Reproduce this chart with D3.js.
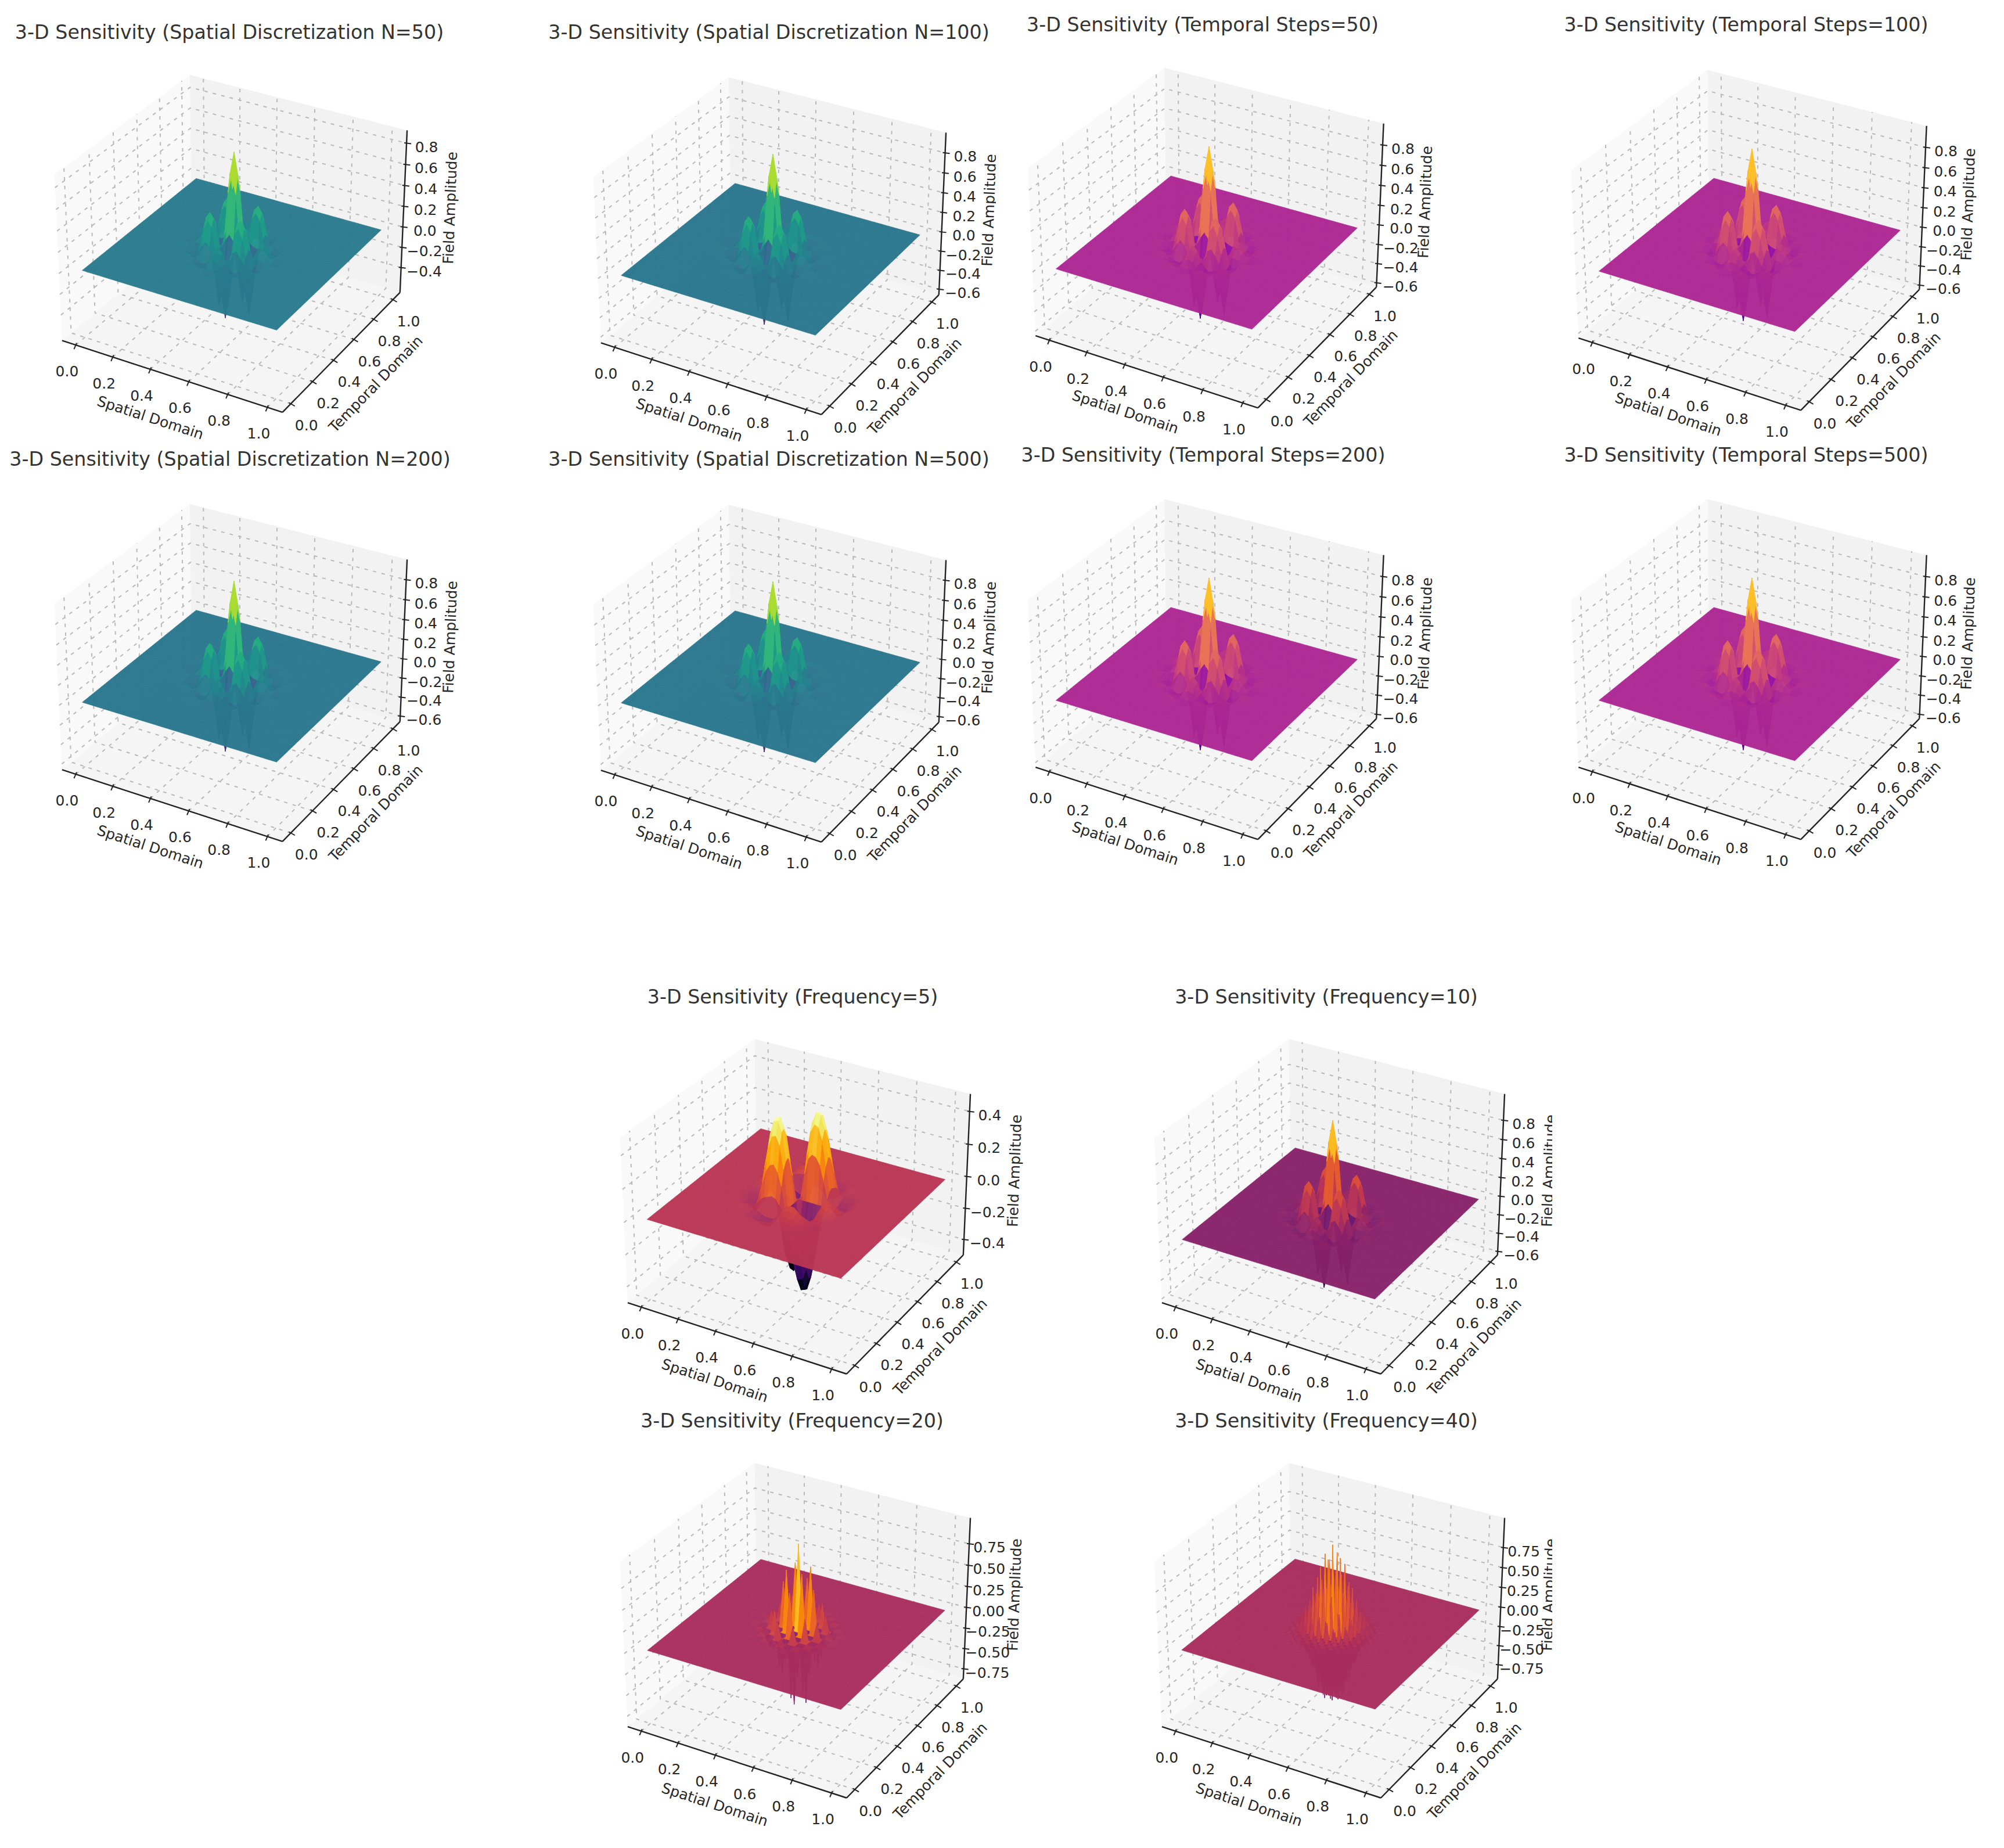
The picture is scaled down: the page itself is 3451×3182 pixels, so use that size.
<!DOCTYPE html>
<html>
<head>
<meta charset="utf-8">
<title>3-D Sensitivity</title>
<script src="https://cdn.jsdelivr.net/npm/d3@7/dist/d3.min.js"></script>
<style>
  body { margin: 0; background: #fff; }
  text { font-family: "DejaVu Sans", sans-serif; fill: #262626; }
</style>
</head>
<body>
<div id="chart"></div>
<script>
// panel titles, in drawing order
const panelTitles = [
  "3-D Sensitivity (Spatial Discretization N=50)",
  "3-D Sensitivity (Spatial Discretization N=100)",
  "3-D Sensitivity (Temporal Steps=50)",
  "3-D Sensitivity (Temporal Steps=100)",
  "3-D Sensitivity (Spatial Discretization N=200)",
  "3-D Sensitivity (Spatial Discretization N=500)",
  "3-D Sensitivity (Temporal Steps=200)",
  "3-D Sensitivity (Temporal Steps=500)",
  "3-D Sensitivity (Frequency=5)",
  "3-D Sensitivity (Frequency=10)",
  "3-D Sensitivity (Frequency=20)",
  "3-D Sensitivity (Frequency=40)"
];
const panelSurfaces = ["f10","f10","f10","f10","f10","f10","f10","f10","f5","f10","f20","f40"];
const panelColormaps = ["viridis","viridis","plasma","plasma","viridis","viridis","plasma","plasma","inferno","inferno","inferno","inferno"];
const panelPeaks = [0.92, 1, 1, 1, 1, 1, 1, 1, 1, 1.02, 1, 1.05];

const xyTicks = [0, 0.2, 0.4, 0.6, 0.8, 1];
const zTicksShort = [-0.4, -0.2, 0, 0.2, 0.4, 0.6, 0.8];
const zTicksLong = [-0.6, -0.4, -0.2, 0, 0.2, 0.4, 0.6, 0.8];
const zTicksFive = [-0.4, -0.2, 0, 0.2, 0.4];
const zTicksQuarter = [-0.75, -0.5, -0.25, 0, 0.25, 0.5, 0.75];
const panelZTicks = [zTicksShort, zTicksLong, zTicksLong, zTicksLong, zTicksLong, zTicksLong, zTicksLong, zTicksLong,
  zTicksFive, zTicksLong, zTicksQuarter, zTicksQuarter];
const panelZDomains = [[-0.65,0.92],[-0.66,1.0],[-0.646,1.01],[-0.646,1.01],[-0.66,1.0],[-0.66,1.0],[-0.646,1.01],[-0.646,1.01],
  [-0.5,0.505],[-0.64,1.07],[-0.875,1.05],[-0.937,1.115]];

// amplitude, one quadrant around the centre (0.5, 0.5), spacing 0.02
const surfaceF5 = [
  [0,0,0,0,0,0,0,0,0,0,0,0,0],
  [0,.15,.25,.28,.27,.23,.14,.04,-.02,-.04,-.03,-.02,-.01],
  [0,.25,.40,.45,.44,.37,.22,.07,-.04,-.07,-.05,-.03,-.01],
  [0,.28,.45,.51,.50,.42,.26,.08,-.04,-.08,-.06,-.04,-.02],
  [0,.27,.44,.50,.49,.41,.25,.07,-.04,-.08,-.06,-.03,-.01],
  [0,.23,.37,.42,.41,.34,.21,.06,-.03,-.06,-.05,-.03,-.01],
  [0,.14,.22,.26,.25,.21,.13,.04,-.02,-.04,-.03,-.02,-.01],
  [0,.04,.07,.08,.07,.06,.04,.01,-.01,-.01,-.01,-.01,0],
  [0,-.02,-.04,-.04,-.04,-.03,-.02,-.01,0,.01,0,0,0],
  [0,-.04,-.07,-.08,-.08,-.06,-.04,-.01,.01,.01,.01,.01,0],
  [0,-.03,-.05,-.06,-.06,-.05,-.03,-.01,0,.01,.01,0,0],
  [0,-.02,-.03,-.04,-.03,-.03,-.02,-.01,0,.01,0,0,0],
  [0,-.01,-.01,-.02,-.01,-.01,-.01,0,0,0,0,0,0]
];
const surfaceF10 = [
  [1,.78,.2,-.42,-.64,-.34,.02,.16,.14,.06,-.01,-.03,-.02],
  [.78,.6,.14,-.26,-.42,-.2,.03,.12,.1,.05,-.01,-.02,-.02],
  [.2,.14,.06,.06,.04,.03,.02,.02,.02,.01,0,0,0],
  [-.42,-.26,.06,.30,.37,.30,.12,-.03,-.06,-.03,.01,.02,.01],
  [-.64,-.42,.04,.37,.42,.36,.15,-.05,-.08,-.04,.01,.02,.01],
  [-.34,-.2,.03,.30,.36,.27,.10,-.04,-.06,-.02,0,.01,.01],
  [.02,.03,.02,.12,.15,.10,.03,-.02,-.02,-.01,0,0,0],
  [.16,.12,.02,-.03,-.05,-.04,-.02,.01,.02,.01,0,-.01,0],
  [.14,.1,.02,-.06,-.08,-.06,-.02,.02,.03,.01,0,0,0],
  [.06,.05,.01,-.03,-.04,-.02,-.01,.01,.01,0,0,0,0],
  [-.01,-.01,0,.01,.01,0,0,0,0,0,0,0,0],
  [-.03,-.02,0,.02,.02,.01,0,-.01,0,0,0,0,0],
  [-.02,-.02,0,.01,.01,.01,0,0,0,0,0,0,0]
];
// spike tips only, spacing 0.04 (the surface crosses zero halfway between them)
const surfaceF20 = [
  [1,-.85,.52,-.23,.07,-.02,0],
  [-.85,.72,-.44,.20,-.06,.02,0],
  [.52,-.44,.27,-.12,.04,-.01,0],
  [-.23,.20,-.12,.05,-.02,0,0],
  [.07,-.06,.04,-.02,.01,0,0],
  [-.02,.02,-.01,0,0,0,0],
  [0,0,0,0,0,0,0]
];
// spike tips only, spacing 0.02
const surfaceF40 = [
  [1,-.82,.87,-.73,.57,-.41,.28,-.18,.10,-.06,.03,-.01,.01],
  [-.82,.50,-.80,.38,-.55,.22,-.27,.09,-.10,.03,-.03,.01,-.01],
  [.87,-.80,.76,-.64,.50,-.36,.24,-.15,.09,-.05,.03,-.01,.01],
  [-.73,.38,-.64,.29,-.42,.16,-.20,.07,-.07,.02,-.02,.01,0],
  [.57,-.55,.50,-.42,.32,-.23,.16,-.10,.06,-.03,.02,-.01,0],
  [-.41,.22,-.36,.16,-.23,.09,-.11,.04,-.04,.01,-.01,.01,0],
  [.28,-.27,.24,-.20,.16,-.11,.08,-.05,.03,-.02,.01,0,0],
  [-.18,.09,-.15,.07,-.10,.04,-.05,.02,-.02,.01,-.01,0,0],
  [.10,-.10,.09,-.07,.06,-.04,.03,-.02,.01,-.01,0,0,0],
  [-.06,.03,-.05,.02,-.03,.01,-.02,.01,-.01,0,0,0,0],
  [.03,-.03,.03,-.02,.02,-.01,.01,-.01,0,0,0,0,0],
  [-.01,.01,-.01,.01,-.01,.01,0,0,0,0,0,0,0],
  [.01,-.01,.01,0,0,0,0,0,0,0,0,0,0]
];

// how each surface is meshed
const surfaces = {
  f5:  { table: surfaceF5,  cells: 50,  every: 1, mirrorSign: true,  gain: 0 },
  f10: { table: surfaceF10, cells: 50,  every: 1, mirrorSign: false, gain: 0 },
  f20: { table: surfaceF20, cells: 50,  every: 2, mirrorSign: false, gain: 0.75 },
  f40: { table: surfaceF40, cells: 100, every: 2, mirrorSign: false, gain: 0.55 }
};
const colormaps = { viridis: d3.interpolateViridis, plasma: d3.interpolatePlasma, inferno: d3.interpolateInferno };

// where each panel sits on the page (the figure is a montage, so they are not on a regular grid)
const panelLayout = [
  { cx: 403,  cy: 406,  s: 3806, tx: 395,  ty: 55 },
  { cx: 1331, cy: 410,  s: 3806, tx: 1324, ty: 55, clip: 1715 },
  { cx: 2082, cy: 396,  s: 3839, tx: 2071, ty: 42 },
  { cx: 3017, cy: 400,  s: 3839, tx: 3007, ty: 42 },
  { cx: 403,  cy: 1145, s: 3806, tx: 396,  ty: 790 },
  { cx: 1331, cy: 1146, s: 3806, tx: 1324, ty: 790, clip: 1715 },
  { cx: 2082, cy: 1139, s: 3839, tx: 2072, ty: 783 },
  { cx: 3017, cy: 1139, s: 3839, tx: 3007, ty: 783 },
  { cx: 1375, cy: 2064, s: 3780, tx: 1365, ty: 1716 },
  { cx: 2295, cy: 2064, s: 3780, tx: 2284, ty: 1716, clip: 2673 },
  { cx: 1375, cy: 2794, s: 3780, tx: 1364, ty: 2446 },
  { cx: 2295, cy: 2794, s: 3780, tx: 2284, ty: 2446, clip: 2673 }
];

// matplotlib default view: elev 30, azim -60, dist 10, box aspect 4:4:3
const boxX = 1.1429, boxZ = 0.8571;
const mid = [boxX / 2, boxX / 2, boxZ / 2];
const U = [0.866, 0.5, 0], V = [-0.25, 0.433, 0.866], W = [0.433, -0.75, 0.5];
const dot = (a, b) => a[0] * b[0] + a[1] * b[1] + a[2] * b[2];

const svg = d3.select("#chart").append("svg").attr("width", 3451).attr("height", 3182);
const defs = svg.append("defs");

function drawPanel(idx) {
  const p = panelLayout[idx];
  const surf = surfaces[panelSurfaces[idx]];
  const ticksZ = panelZTicks[idx];
  const zDom = panelZDomains[idx];
  const peak = panelPeaks[idx];
  const g = svg.append("g");

  const xS = d3.scaleLinear().domain([-0.075, 1.075]).range([0, boxX]);
  const zS = d3.scaleLinear().domain(zDom).range([0, boxZ]);
  const pxS = d3.scaleLinear().domain([0, 1]).range([p.cx, p.cx + p.s]);
  const pyS = d3.scaleLinear().domain([0, 1]).range([p.cy, p.cy - p.s]);
  const color = d3.scaleSequential(colormaps[panelColormaps[idx]]).domain(zDom);

  const project = (x, y, z) => {
    const r = [xS(x) - mid[0], xS(y) - mid[1], zS(z) - mid[2]];
    const d = 10 - dot(W, r);
    return [pxS(dot(U, r) / d), pyS(dot(V, r) / d), d];
  };
  const line = d3.line();
  const [x0, x1] = xS.domain();
  const [z0, z1] = zS.domain();

  // panes
  const panes = [
    { fill: "#f5f5f5", pts: [[x0,x0,z0],[x1,x0,z0],[x1,x1,z0],[x0,x1,z0]] },
    { fill: "#f9f9f9", pts: [[x0,x0,z0],[x0,x1,z0],[x0,x1,z1],[x0,x0,z1]] },
    { fill: "#f2f2f2", pts: [[x0,x1,z0],[x1,x1,z0],[x1,x1,z1],[x0,x1,z1]] }
  ];
  g.selectAll("path.pane").data(panes).join("path").attr("class", "pane")
    .attr("d", d => line(d.pts.map(q => project(...q))) + "Z")
    .attr("fill", d => d.fill);

  // grid lines
  const gridSegs = [];
  xyTicks.forEach(t => {
    gridSegs.push([[t,x0,z0],[t,x1,z0],[t,x1,z1]]);
    gridSegs.push([[x1,t,z0],[x0,t,z0],[x0,t,z1]]);
  });
  ticksZ.forEach(t => gridSegs.push([[x0,x0,t],[x0,x1,t],[x1,x1,t]]));
  g.selectAll("path.grid").data(gridSegs).join("path").attr("class", "grid")
    .attr("d", d => line(d.map(q => project(...q))))
    .attr("fill", "none").attr("stroke", "#b8b8b8").attr("stroke-width", 2)
    .attr("stroke-dasharray", "6 9");

  // axis lines
  const axisSegs = [
    [[x0,x0,z0],[x1,x0,z0]],
    [[x1,x0,z0],[x1,x1,z0]],
    [[x1,x1,z0],[x1,x1,z1]]
  ];
  g.selectAll("path.axis").data(axisSegs).join("path").attr("class", "axis")
    .attr("d", d => line(d.map(q => project(...q))))
    .attr("fill", "none").attr("stroke", "#222").attr("stroke-width", 2.4);

  // tick marks and labels
  const fmt1 = d3.format(".1f");
  const fmtZ = d3.format(ticksZ === zTicksQuarter ? ".2f" : ".1f");
  const tickData = [];
  xyTicks.forEach(t => {
    const a = project(t, x0, z0);
    tickData.push({ a, mark: [-3, 7], off: [-15, 45], label: fmt1(t) });
    const b = project(x1, t, z0);
    tickData.push({ a: b, mark: [7, 4], off: [27, 37], label: fmt1(t) });
  });
  ticksZ.forEach(t => {
    const a = project(x1, x1, t);
    const f = (t - z0) / (z1 - z0);
    tickData.push({ a, mark: [8, 1], off: [41 - 7 * f, 6], label: fmtZ(t) });
  });
  g.selectAll("path.tick").data(tickData).join("path").attr("class", "tick")
    .attr("d", d => line([[d.a[0] - d.mark[0] / 2, d.a[1] - d.mark[1] / 2], [d.a[0] + d.mark[0], d.a[1] + d.mark[1]]]))
    .attr("stroke", "#222").attr("stroke-width", 2);
  g.selectAll("text.tl").data(tickData).join("text").attr("class", "tl")
    .attr("x", d => d.a[0] + d.off[0]).attr("y", d => d.a[1] + d.off[1] + 9)
    .attr("text-anchor", "middle").attr("font-size", 25)
    .text(d => d.label);

  // surface cells, far ones first
  const n = surf.cells;
  const zAt = (i, j) => {
    const a = i - n / 2, b = j - n / 2;
    const ia = Math.abs(a), ib = Math.abs(b);
    if (ia % surf.every || ib % surf.every) return 0;
    const row = surf.table[ia / surf.every];
    if (!row) return 0;
    const v = row[ib / surf.every];
    if (v === undefined) return 0;
    const sign = surf.mirrorSign ? (a < 0 ? -1 : 1) * (b < 0 ? -1 : 1) : 1;
    return sign * v * peak;
  };
  const nodes = d3.range(n + 1).map(i => d3.range(n + 1).map(j => {
    const z = zAt(i, j);
    return { z, q: project(i / n, j / n, z) };
  }));
  const cells = [];
  for (let i = 0; i < n; i++) {
    for (let j = 0; j < n; j++) {
      const c = [nodes[i][j], nodes[i + 1][j], nodes[i + 1][j + 1], nodes[i][j + 1]];
      let value = d3.mean(c, k => k.z);
      if (surf.gain) {
        // the spike meshes are coarser than the original, so colour by the tip a cell touches
        const big = c.reduce((m, k) => Math.abs(k.z) > Math.abs(m) ? k.z : m, 0);
        value = big > 0 ? big * surf.gain : big * 0.2;
      }
      cells.push({ c, value, depth: d3.mean(c, k => k.q[2]) });
    }
  }
  cells.sort((a, b) => b.depth - a.depth);
  g.append("g").selectAll("path").data(cells).join("path")
    .attr("d", d => line(d.c.map(k => k.q)) + "Z")
    .attr("fill", d => color(d.value))
    .attr("stroke", d => color(d.value))
    .attr("stroke-width", 0.7)
    .attr("opacity", 0.97);

  // axis titles
  const axisLabels = [
    { text: "Spatial Domain", x: p.cx - 144, y: p.cy + 313, rot: 18 },
    { text: "Temporal Domain", x: p.cx + 244, y: p.cy + 255, rot: -46 },
    { text: "Field Amplitude", x: p.cx + 372, y: p.cy - 48, rot: -88 }
  ];
  let clipId = null;
  if (p.clip) {
    clipId = "clip" + idx;
    defs.append("clipPath").attr("id", clipId).append("rect")
      .attr("x", 0).attr("y", 0).attr("width", p.clip).attr("height", 3182);
  }
  const lab = g.append("g");
  if (clipId) lab.attr("clip-path", `url(#${clipId})`);
  lab.selectAll("text").data(axisLabels).join("text")
    .attr("transform", d => `translate(${d.x},${d.y}) rotate(${d.rot})`)
    .attr("text-anchor", "middle").attr("dy", "0.35em")
    .attr("font-size", 25)
    .text(d => d.text);

  // title
  g.append("text").attr("x", p.tx).attr("y", p.ty).attr("dy", "0.35em")
    .attr("text-anchor", "middle").attr("font-size", 33.3).style("fill", "#333")
    .text(panelTitles[idx]);
}

panelTitles.forEach((t, i) => drawPanel(i));
</script>
</body>
</html>
